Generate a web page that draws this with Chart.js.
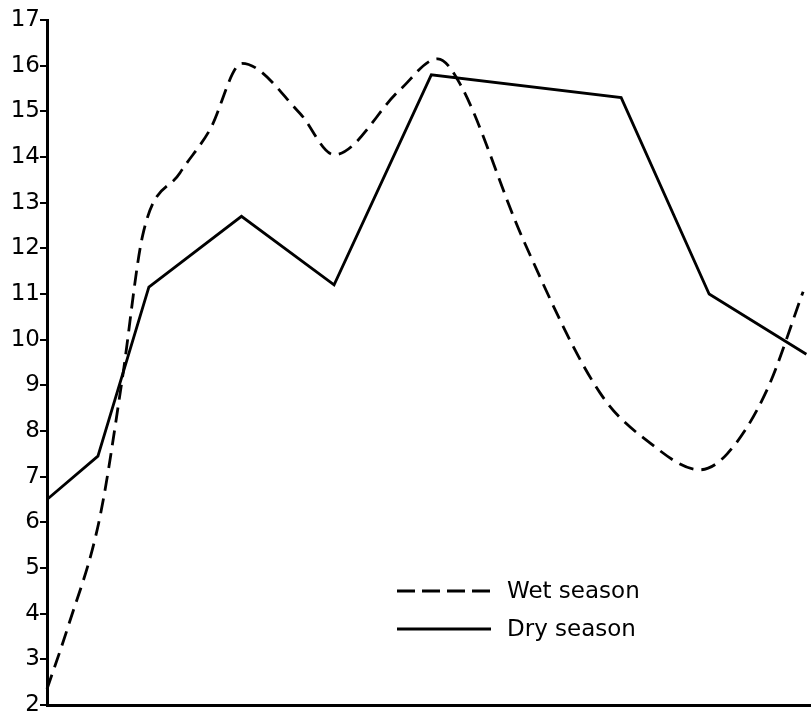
<!DOCTYPE html>
<html>
<head>
<meta charset="utf-8">
<script src="https://cdn.jsdelivr.net/npm/chart.js@4/dist/chart.umd.min.js"></script>
<style>
  html, body { margin: 0; padding: 0; background: #fff; }
  #wrap { width: 811px; height: 727px; }
</style>
</head>
<body>
<div id="wrap"><canvas id="seasonChart" width="811" height="727"></canvas></div>
<script>
// values (x in sampling units along the axis)
const yTicks = [2,3,4,5,6,7,8,9,10,11,12,13,14,15,16,17];

const wetLabel = 'Wet season';
const wetX = [0, 0.45, 1.14, 1.62, 2.07, 2.87, 3.52, 4.21, 5.46, 6.2, 7.62, 8.44, 8.92, 10.28, 11.94, 13.02, 14.1, 14.69, 15.55, 16.33];
const wetY = [2.35, 3.7, 6.1, 9.1, 12.3, 13.65, 14.6, 16.05, 14.96, 14.05, 15.47, 16.15, 15.6, 12.2, 8.84, 7.74, 7.15, 7.5, 8.9, 11.05];

const dryLabel = 'Dry season';
const dryX = [0, 1.1, 2.2, 4.2, 6.2, 8.3, 12.4, 14.3, 16.4];
const dryY = [6.5, 7.45, 11.15, 12.7, 11.2, 15.8, 15.3, 11.0, 9.68];

function pts(xs, ys){ return xs.map((x,i) => ({x: x, y: ys[i]})); }

const legendInside = {
    id: 'legendInside',
    afterDraw(chart){
        const ctx = chart.ctx;
        const rows = [
            {label: wetLabel, dash: [18,7], y: 591},
            {label: dryLabel, dash: [], y: 629}
        ];
        ctx.save();
        rows.forEach(r => {
            ctx.strokeStyle = '#000';
            ctx.lineWidth = 2.8;
            ctx.setLineDash(r.dash);
            ctx.beginPath();
            ctx.moveTo(397, r.y);
            ctx.lineTo(491, r.y);
            ctx.stroke();
            ctx.setLineDash([]);
            ctx.fillStyle = '#000';
            ctx.font = '23px "DejaVu Sans"';
            ctx.textBaseline = 'middle';
            ctx.fillText(r.label, 507, r.y + 1);
        });
        ctx.restore();
    }
};

new Chart(document.getElementById('seasonChart').getContext('2d'), {
    type: 'line',
    data: {
        datasets: [
            {
                label: wetLabel,
                data: pts(wetX, wetY),
                borderColor: '#000',
                borderWidth: 2.8,
                borderDash: [15, 8],
                pointRadius: 0,
                cubicInterpolationMode: 'monotone',
                fill: false
            },
            {
                label: dryLabel,
                data: pts(dryX, dryY),
                borderColor: '#000',
                borderWidth: 2.8,
                pointRadius: 0,
                tension: 0,
                fill: false
            }
        ]
    },
    options: {
        responsive: false,
        animation: false,
        clip: false,
        layout: { padding: { top: 20, right: 0, left: 0, bottom: 0 } },
        plugins: { legend: { display: false }, tooltip: { enabled: false } },
        scales: {
            x: {
                type: 'linear',
                min: 0,
                max: 16.5,
                grid: { display: false },
                border: { display: true, color: '#000', width: 3 },
                ticks: { display: false },
                afterFit(s){ s.height = 22; }
            },
            y: {
                min: 2,
                max: 17,
                afterBuildTicks(s){ s.ticks = yTicks.map(v => ({value: v})); },
                grid: { drawOnChartArea: false, drawTicks: true, tickLength: 7, color: '#000', lineWidth: 2 },
                border: { display: true, color: '#000', width: 3 },
                ticks: {
                    color: '#000',
                    padding: 0,
                    font: { family: 'DejaVu Sans', size: 23 },
                    callback: v => String(v)
                },
                afterFit(s){ s.width = 47; }
            }
        }
    },
    plugins: [legendInside]
});
</script>
</body>
</html>
